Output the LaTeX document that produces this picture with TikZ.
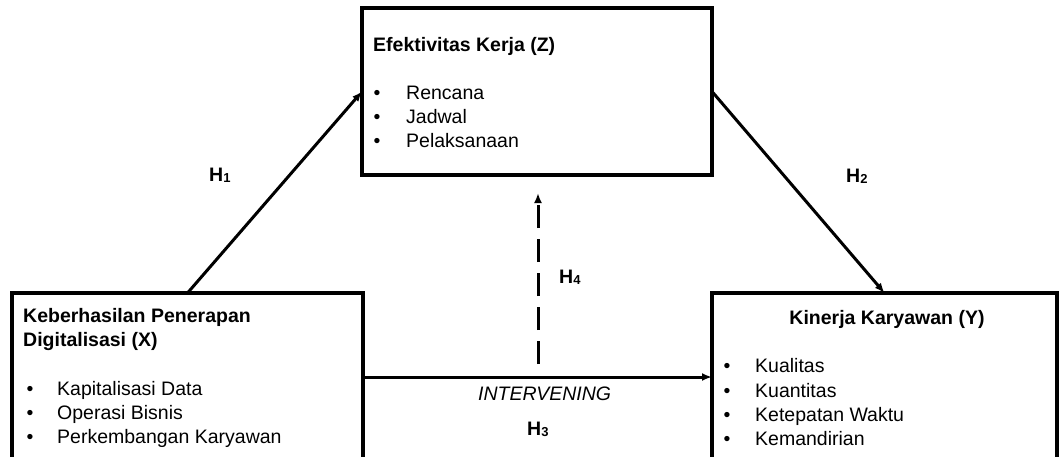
\documentclass[tikz,border=0pt]{standalone}
\usepackage{fontspec}
\setmainfont{Liberation Sans}
\usetikzlibrary{arrows.meta}
\tikzset{
  box/.style={draw, line width=4pt, rectangle, inner sep=0pt, outer sep=0pt},
  arr/.style={line width=3pt, -{Latex[length=10pt,width=8pt]}},
  txt/.style={anchor=base west, inner sep=0pt, font=\fontsize{19.5}{24}\selectfont},
  ttl/.style={txt, font=\fontsize{19.5}{24}\selectfont\bfseries},
  bul/.style={anchor=base, inner sep=0pt, font=\fontsize{19.5}{24}\selectfont},
  hlab/.style={anchor=base west, inner sep=0pt, font=\fontsize{19.5}{24}\selectfont\bfseries},
}
\newcommand{\hsub}[2]{#1\raisebox{-1.5pt}{\fontsize{13}{13}\selectfont #2}}
\begin{document}
\begin{tikzpicture}[x=1pt,y=-1pt]
\useasboundingbox (0,0) rectangle (1061,456);
\clip (0,0) rectangle (1061,456);
% boxes
\node[box, minimum width=350pt, minimum height=167pt] (Z) at (537,91.5) {};
\node[box, minimum width=351pt, minimum height=220pt] (X) at (187.5,403) {};
\node[box, minimum width=345pt, minimum height=220pt] (Y) at (884.5,403) {};
% Z text
\node[ttl] (zt) at (373,51) {Efektivitas Kerja (Z)};
\node[bul] (zb1) at (377,99) {•};
\node[bul] (zb2) at (377,123) {•};
\node[bul] (zb3) at (377,147) {•};
\node[txt] (z1) at (406,99) {Rencana};
\node[txt] (z2) at (406,123) {Jadwal};
\node[txt] (z3) at (406,147) {Pelaksanaan};
% X text
\node[ttl] (xt1) at (23,322) {Keberhasilan Penerapan};
\node[ttl] (xt2) at (23,346) {Digitalisasi (X)};
\node[bul] (xb1) at (30,395) {•};
\node[bul] (xb2) at (30,419) {•};
\node[bul] (xb3) at (30,443) {•};
\node[txt] (x1) at (57,395) {Kapitalisasi Data};
\node[txt] (x2) at (57,419) {Operasi Bisnis};
\node[txt] (x3) at (57,443) {Perkembangan Karyawan};
% Y text
\node[anchor=base, inner sep=0pt, font=\fontsize{19.5}{24}\selectfont\bfseries] (yt) at (887,324) {Kinerja Karyawan (Y)};
\node[bul] (yb1) at (727,372) {•};
\node[bul] (yb2) at (727,397) {•};
\node[bul] (yb3) at (727,421) {•};
\node[bul] (yb4) at (727,445) {•};
\node[txt] (y1) at (755,372) {Kualitas};
\node[txt] (y2) at (755,397) {Kuantitas};
\node[txt] (y3) at (755,421) {Ketepatan Waktu};
\node[txt] (y4) at (755,445) {Kemandirian};
% connectors
\coordinate (h3y) at (0,377);
\coordinate (h4s) at (538,364);
\coordinate (h4e) at (538,193);
\draw[arr] (X.north) -- (Z.west);
\draw[arr] (Z.east) -- (Y.north);
\draw[arr] (X.east |- h3y) -- (Y.west |- h3y);
\draw[arr, dash pattern=on 23pt off 11pt] (h4s) -- (h4e);
% labels
\node[hlab] (H1) at (209,181) {\hsub{H}{1}};
\node[hlab] (H2) at (846,182) {\hsub{H}{2}};
\node[hlab] (H4) at (559,283) {\hsub{H}{4}};
\node[hlab] (H3) at (527,435) {\hsub{H}{3}};
\node[anchor=base west, inner sep=0pt, font=\fontsize{19.5}{24}\selectfont\itshape] (iv) at (478,400) {INTERVENING};
\end{tikzpicture}
\end{document}
